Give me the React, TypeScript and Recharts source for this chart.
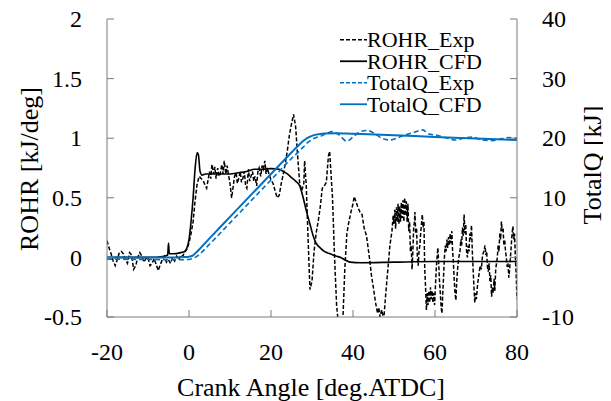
import React from 'react';
import { LineChart, Line, XAxis, YAxis } from 'recharts';

const crankAngleTicks = [-20, 0, 20, 40, 60, 80];
const rohrTicks = [-0.5, 0, 0.5, 1, 1.5, 2];
const totalQTicks = [-10, 0, 10, 20, 30, 40];

const seriesNames = ['ROHR_Exp', 'ROHR_CFD', 'TotalQ_Exp', 'TotalQ_CFD'];

// [crank angle (deg ATDC), ROHR (kJ/deg)]
const rohrExp: [number, number][] = [
  [-20, 0.14], [-19.5, 0.08], [-19, 0.03], [-18.5, -0.03], [-18, -0.07], [-17.5, -0.02], [-17, 0.04],
  [-16.5, 0.05], [-16, 0.03], [-15.5, -0.02], [-15, -0.05], [-14.5, 0.04], [-14, 0.02], [-13.5, -0.1],
  [-13, -0.07], [-12.5, 0.0], [-12, 0.04], [-11.5, 0.01], [-11, -0.04], [-10.5, -0.01], [-10, 0.0],
  [-9.5, -0.07], [-9, -0.05], [-8.5, -0.01], [-8, -0.06], [-7.5, -0.11], [-7, -0.06], [-6.5, -0.02],
  [-6, 0.01], [-5.5, -0.04], [-5, -0.02], [-4.5, -0.05], [-4, 0.0], [-3.5, -0.03], [-3, 0.01],
  [-2.5, -0.02], [-2, 0.02], [-1.5, 0.01], [-1, 0.05], [-0.5, 0.07], [0, 0.12], [0.5, 0.2], [1, 0.3],
  [1.5, 0.48], [2, 0.62], [2.5, 0.68], [3, 0.66], [3.5, 0.64], [4, 0.6], [4.3, 0.58], [4.6, 0.64],
  [5, 0.72], [5.3, 0.66], [5.6, 0.78], [6, 0.7], [6.3, 0.76], [6.6, 0.66], [7, 0.75], [7.3, 0.68],
  [7.6, 0.7], [8, 0.78], [8.3, 0.7], [8.6, 0.81], [9, 0.7], [9.3, 0.77], [9.6, 0.7], [10, 0.62],
  [10.4, 0.5], [10.8, 0.6], [11.1, 0.68], [11.5, 0.71], [11.8, 0.62], [12.1, 0.66], [12.5, 0.72],
  [12.8, 0.63], [13.1, 0.66], [13.5, 0.72], [13.8, 0.6], [14.1, 0.58], [14.5, 0.74], [14.8, 0.64],
  [15.1, 0.68], [15.5, 0.72], [15.8, 0.64], [16.1, 0.68], [16.5, 0.6], [16.8, 0.72], [17.1, 0.75],
  [17.5, 0.68], [17.8, 0.77], [18.1, 0.74], [18.5, 0.81], [18.8, 0.7], [19.1, 0.75], [19.5, 0.7],
  [20, 0.65], [20.5, 0.62], [21, 0.56], [21.5, 0.5], [22, 0.52], [22.5, 0.62], [23, 0.7], [23.5, 0.79],
  [24, 0.9], [24.5, 1.03], [25, 1.12], [25.5, 1.2], [26, 1.1], [26.5, 0.85], [27, 0.62], [27.5, 0.56],
  [28, 0.62], [28.2, 0.81], [28.6, 0.6], [29, 0.2], [29.5, -0.27], [30, -0.2], [30.5, 0.05], [31, 0.2],
  [31.5, 0.3], [32, 0.42], [32.5, 0.58], [33, 0.6], [33.5, 0.63], [34, 0.85], [34.3, 0.89], [35, 0.5],
  [35.5, 0.0], [36, -0.4], [36.4, -0.55], [37, -0.6], [37.5, -0.55], [38, -0.1], [38.5, 0.2], [39, 0.3],
  [39.5, 0.38], [40, 0.45], [40.3, 0.51], [40.8, 0.46], [41.2, 0.42], [41.7, 0.38], [42.2, 0.36],
  [42.7, 0.25], [43.3, 0.18], [44, 0.0], [44.5, -0.15], [45, -0.26], [45.5, -0.38], [46, -0.47],
  [46.3, -0.42], [46.6, -0.5], [47, -0.44], [47.5, -0.52], [48, -0.3], [48.5, -0.1], [49, 0.1],
  [49.5, 0.22], [49.8, 0.35], [50, 0.28], [50.2, 0.4], [50.4, 0.24], [50.6, 0.42], [50.8, 0.3], [51, 0.45],
  [51.2, 0.28], [51.4, 0.43], [51.6, 0.3], [51.8, 0.46], [52, 0.33], [52.2, 0.48], [52.4, 0.3], [52.6, 0.5],
  [52.8, 0.35], [53, 0.47], [53.2, 0.3], [53.4, 0.45], [53.6, 0.22], [53.8, 0.3], [54, 0.05], [54.2, 0.1],
  [54.4, -0.1], [54.6, 0.05], [54.8, 0.25], [55, 0.3], [55.1, 0.38], [55.3, 0.2], [55.5, 0.25], [55.7, 0.0],
  [55.9, -0.07], [56.1, 0.05], [56.3, 0.1], [56.5, 0.2], [56.7, 0.28], [56.9, 0.36], [57.1, 0.25],
  [57.3, 0.3], [57.5, -0.1], [57.7, -0.25], [57.9, -0.44], [58.1, -0.3], [58.3, -0.4], [58.5, -0.28],
  [58.7, -0.38], [58.9, -0.25], [59.1, -0.35], [59.3, -0.28], [59.5, -0.38], [59.7, -0.3], [59.9, -0.4],
  [60.1, -0.25], [60.3, -0.1], [60.5, 0.0], [60.7, 0.08], [60.9, -0.05], [61.1, -0.2], [61.3, -0.3],
  [61.5, -0.42], [61.7, -0.47], [61.9, -0.3], [62.1, -0.15], [62.3, 0.0], [62.5, 0.1], [62.7, 0.05],
  [62.9, 0.15], [63.1, 0.08], [63.3, 0.17], [63.5, 0.1], [63.7, 0.2], [63.9, 0.12], [64.1, 0.22],
  [64.3, 0.05], [64.5, -0.05], [64.7, -0.2], [64.9, -0.3], [65.1, -0.36], [65.3, -0.2], [65.5, -0.1],
  [65.8, 0.0], [66.1, 0.05], [66.3, 0.15], [66.5, 0.1], [66.7, 0.25], [66.9, 0.18], [67.1, 0.36],
  [67.3, 0.2], [67.5, 0.28], [67.7, 0.05], [67.9, 0.0], [68.1, 0.1], [68.3, 0.05], [68.5, 0.2],
  [68.7, 0.15], [68.9, 0.27], [69.1, 0.05], [69.3, -0.1], [69.5, -0.25], [69.7, -0.38], [69.9, -0.3],
  [70.1, -0.35], [70.4, -0.22], [70.7, -0.15], [71, -0.07], [71.3, -0.1], [71.6, 0.02], [71.9, 0.05],
  [72.2, 0.1], [72.4, 0.02], [72.6, 0.05], [72.8, -0.08], [73, -0.12], [73.2, -0.05], [73.4, -0.2],
  [73.6, -0.15], [73.8, -0.33], [74, -0.25], [74.2, -0.3], [74.4, -0.18], [74.6, -0.28], [74.8, -0.1],
  [75, -0.05], [75.2, 0.0], [75.4, 0.1], [75.6, 0.05], [75.8, 0.2], [76, 0.15], [76.2, 0.3], [76.4, 0.22],
  [76.6, 0.25], [76.8, 0.1], [77, 0.15], [77.2, 0.05], [77.4, 0.0], [77.6, -0.08], [77.8, -0.05],
  [78, -0.17], [78.2, -0.1], [78.4, 0.0], [78.6, 0.1], [78.8, 0.2], [79, 0.26], [79.2, 0.15], [79.4, 0.2],
  [79.6, 0.0], [79.8, -0.15], [80, -0.35],
];

const rohrCfd: [number, number][] = [
  [-20, 0.0], [-10, 0.0], [-6, 0.01], [-5.2, 0.02], [-5, 0.12], [-4.8, 0.03], [-4, 0.03], [-2, 0.04],
  [-1, 0.05], [-0.5, 0.08], [0, 0.15], [0.5, 0.3], [1, 0.5], [1.5, 0.75], [2, 0.88], [2.3, 0.86],
  [2.7, 0.72], [3.2, 0.69], [4, 0.7], [6, 0.7], [8, 0.7], [10, 0.7], [12, 0.71], [14, 0.72], [16, 0.74],
  [18, 0.74], [20, 0.745], [22, 0.74], [23, 0.72], [24, 0.7], [25, 0.67], [26, 0.64], [27, 0.6],
  [28, 0.48], [28.7, 0.38], [29.5, 0.28], [30.3, 0.18], [31, 0.12], [32, 0.08], [33, 0.05], [34.4, 0.03],
  [36, 0.01], [37, 0.0], [38, -0.02], [39.3, -0.04], [42, -0.045], [50, -0.04], [60, -0.035],
  [70, -0.035], [80, -0.035],
];

// [crank angle (deg ATDC), TotalQ (kJ)]
const totalQExp: [number, number][] = [
  [-20, -0.3], [-10, -0.35], [-3, -0.4], [0, -0.35], [1, -0.15], [2, 0.2], [3, 0.8], [5, 2.2], [10, 5.8],
  [15, 9.4], [20, 13.0], [25, 16.6], [27, 17.9], [28, 18.6], [29, 19.3], [30, 19.8], [31, 20.1],
  [32, 20.3], [33, 20.6], [35, 21.1], [36.5, 20.6], [38.5, 19.5], [40, 20.2], [41.5, 21.0], [43.4, 21.3],
  [45, 20.9], [47, 20.0], [49, 19.7], [51, 20.1], [53, 20.6], [55, 21.0], [57, 21.4], [58.5, 20.7],
  [60.5, 20.5], [62, 20.2], [65, 19.7], [67, 20.0], [69, 20.2], [71, 19.8], [74, 19.6], [76, 19.9],
  [78, 20.1], [80, 20.0],
];

const totalQCfd: [number, number][] = [
  [-20, 0], [-3, 0], [-1, 0.05], [0, 0.1], [1, 0.35], [2, 1.0], [5, 3.2], [10, 6.8], [15, 10.4],
  [20, 14.0], [25, 17.6], [27, 19.0], [28, 19.6], [29, 20.1], [30, 20.4], [31, 20.6], [33, 20.8],
  [36, 20.85], [40, 20.75], [50, 20.5], [60, 20.2], [70, 19.95], [80, 19.7],
];

const toRows = (pts: [number, number][]) => pts.map(([angle, value]) => ({ angle, value }));

const FONT = '"Liberation Serif", "Times New Roman", serif';
const GRAY = '#7a7a7a';
const BLUE = '#0070C0';
const TICK_FS = 24;
const TITLE_FS = 26;

const LeftTick = (props: any) => {
  const { x, y, payload } = props;
  return (
    <g>
      <line x1={x} x2={x + 7} y1={y} y2={y} stroke={GRAY} strokeWidth={1} />
      <text x={x - 25} y={y} dy={TICK_FS * 0.34} textAnchor="end" fontFamily={FONT} fontSize={TICK_FS} fill="#000">
        {payload.value}
      </text>
    </g>
  );
};

const RightTick = (props: any) => {
  const { x, y, payload } = props;
  return (
    <g>
      <line x1={x} x2={x - 7} y1={y} y2={y} stroke={GRAY} strokeWidth={1} />
      <text x={x + 25} y={y} dy={TICK_FS * 0.34} textAnchor="start" fontFamily={FONT} fontSize={TICK_FS} fill="#000">
        {payload.value}
      </text>
    </g>
  );
};

const BottomTick = (props: any) => {
  const { x, y, payload } = props;
  return (
    <g>
      <line x1={x} x2={x} y1={y} y2={y - 7} stroke={GRAY} strokeWidth={1} />
      <text x={x} y={y + 43} textAnchor="middle" fontFamily={FONT} fontSize={TICK_FS} fill="#000">
        {payload.value}
      </text>
    </g>
  );
};

const legendStyles = [
  { color: '#000', dash: '4 2', width: 1.5 },
  { color: '#000', dash: undefined, width: 1.8 },
  { color: BLUE, dash: '4 2', width: 1.5 },
  { color: BLUE, dash: undefined, width: 1.8 },
];

const LegendBox = () => (
  <svg width={180} height={96} style={{ display: 'block' }}>
    {seriesNames.map((name, i) => {
      const cy = 14.75 + 21.5 * i;
      const s = legendStyles[i];
      return (
        <g key={name}>
          <line x1={2} x2={29} y1={cy} y2={cy} stroke={s.color} strokeWidth={s.width} strokeDasharray={s.dash} />
          <text x={29} y={cy + 7.5} fontFamily={FONT} fontSize={22} fill="#000">{name}</text>
        </g>
      );
    })}
  </svg>
);

export default function App() {
  return (
    <div style={{ position: 'relative', width: 611, height: 401, margin: '-8px 0 0 -8px' }}>
      <LineChart width={611} height={401} margin={{ top: 19, right: 0, bottom: 0, left: 0 }}>
        <XAxis
          xAxisId="top"
          orientation="top"
          type="number"
          domain={[-20, 80]}
          allowDataOverflow
          height={0}
          tick={false}
          tickLine={false}
          axisLine={{ stroke: GRAY, strokeWidth: 1 }}
        />
        <XAxis
          dataKey="angle"
          type="number"
          domain={[-20, 80]}
          ticks={crankAngleTicks}
          allowDataOverflow
          axisLine={{ stroke: GRAY, strokeWidth: 1 }}
          tickLine={false}
          tickSize={0}
          tickMargin={0}
          height={84}
          tick={<BottomTick />}
          interval={0}
          label={{
            content: (p: any) => {
              const vb = p.viewBox || { x: 107, y: 317, width: 410 };
              return (
                <text x={vb.x + vb.width / 2 - 1} y={vb.y + 79} textAnchor="middle" fontFamily={FONT} fontSize={TITLE_FS} fill="#000">
                  Crank Angle [deg.ATDC]
                </text>
              );
            },
          }}
        />
        <YAxis
          yAxisId="left"
          orientation="left"
          type="number"
          domain={[-0.5, 2]}
          ticks={rohrTicks}
          allowDataOverflow
          axisLine={{ stroke: GRAY, strokeWidth: 1 }}
          tickLine={false}
          tickSize={0}
          tickMargin={0}
          width={107}
          tick={<LeftTick />}
          interval={0}
          label={{
            content: (p: any) => {
              const vb = p.viewBox || { x: 0, y: 19, height: 298 };
              const cx = vb.x + 38;
              const cy = vb.y + vb.height / 2 + 1;
              return (
                <text x={cx} y={cy} textAnchor="middle" transform={`rotate(-90, ${cx}, ${cy})`} fontFamily={FONT} fontSize={TITLE_FS} fill="#000">
                  ROHR [kJ/deg]
                </text>
              );
            },
          }}
        />
        <YAxis
          yAxisId="right"
          orientation="right"
          type="number"
          domain={[-10, 40]}
          ticks={totalQTicks}
          allowDataOverflow
          axisLine={{ stroke: GRAY, strokeWidth: 1 }}
          tickLine={false}
          tickSize={0}
          tickMargin={0}
          width={94}
          tick={<RightTick />}
          interval={0}
          label={{
            content: (p: any) => {
              const vb = p.viewBox || { x: 517, y: 19, height: 298 };
              const cx = vb.x + 84;
              const cy = vb.y + vb.height / 2 - 3;
              return (
                <text x={cx} y={cy} textAnchor="middle" transform={`rotate(-90, ${cx}, ${cy})`} fontFamily={FONT} fontSize={TITLE_FS} fill="#000">
                  TotalQ [kJ]
                </text>
              );
            },
          }}
        />
        <Line yAxisId="left" data={toRows(rohrExp)} dataKey="value" name={seriesNames[0]} stroke="#000" strokeWidth={1.5} strokeDasharray="4 2" dot={false} type="linear" isAnimationActive={false} />
        <Line yAxisId="left" data={toRows(rohrCfd)} dataKey="value" name={seriesNames[1]} stroke="#000" strokeWidth={1.6} dot={false} type="monotone" isAnimationActive={false} />
        <Line yAxisId="right" data={toRows(totalQExp)} dataKey="value" name={seriesNames[2]} stroke={BLUE} strokeWidth={1.6} strokeDasharray="5 3" dot={false} type="monotone" isAnimationActive={false} />
        <Line yAxisId="right" data={toRows(totalQCfd)} dataKey="value" name={seriesNames[3]} stroke={BLUE} strokeWidth={2} dot={false} type="monotone" isAnimationActive={false} />
      </LineChart>
      <div style={{ position: 'absolute', left: 338, top: 25, width: 180, height: 96 }}>
        <LegendBox />
      </div>
    </div>
  );
}
